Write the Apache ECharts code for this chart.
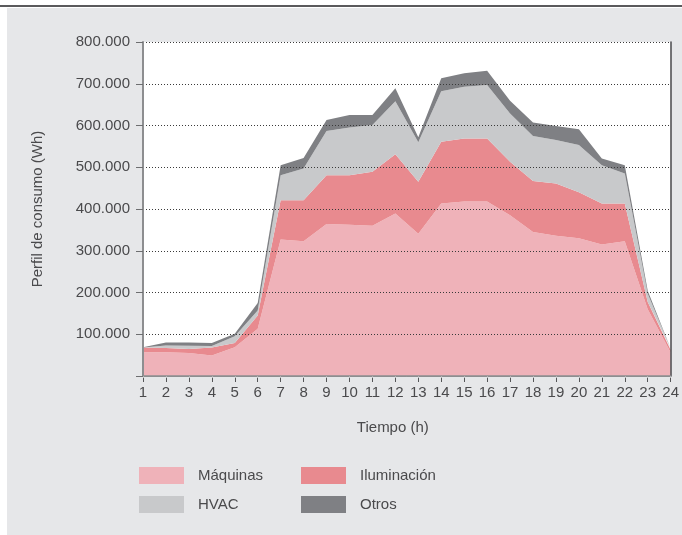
<!DOCTYPE html>
<html>
<head>
<meta charset="utf-8">
<script src="https://cdn.jsdelivr.net/npm/echarts@6/dist/echarts.min.js"></script>
<style>
  html, body { margin: 0; padding: 0; background: #ffffff; }
  #rule { position: absolute; left: 0; top: 5px; width: 682px; height: 2px; background: #5a5a5c; }
  #panel { position: absolute; left: 7px; top: 8px; width: 675px; height: 527px; background: #e6e7e9; }
  #chart { position: absolute; left: 0; top: 0; width: 682px; height: 535px; }
</style>
</head>
<body>
<div id="rule"></div>
<div id="panel"></div>
<div id="chart"></div>
<script>
// Hourly consumption profile (Wh), stacked by end use
const hours = ['1','2','3','4','5','6','7','8','9','10','11','12','13','14','15','16','17','18','19','20','21','22','23','24'];

const maquinas = [57000,57000,55000,49000,69000,113000,327000,323000,364000,362000,360000,389000,341000,413000,418000,418000,385000,345000,336000,330000,315000,323000,160000,56000];
const iluminacion = [11000,10000,9500,19000,10000,32000,94000,98000,117000,119000,129000,142000,124000,148000,151000,151000,128000,122000,125000,110000,98000,90000,17000,6000];
const hvac = [500,6000,8000,4000,16000,12000,60000,76000,106000,114000,112000,127000,95000,121000,124000,128000,116000,108000,104000,113000,92000,72000,20000,3000];
const otros = [500,7000,7500,7000,6000,18000,24000,25000,26000,30000,24000,31000,12000,31000,32000,34000,30000,32000,34000,38000,16000,20000,7000,1000];

const yTickLabels = ['', '100.000', '200.000', '300.000', '400.000', '500.000', '600.000', '700.000', '800.000'];
const yStep = 100000;
const yMax = 800000;

const seriesNames = ['Máquinas', 'Iluminación', 'HVAC', 'Otros'];
const seriesData = [maquinas, iluminacion, hvac, otros];
const colors = ['#efb2b9', '#e88a8f', '#c8c9cb', '#7f8084'];

const FONT = 'Liberation Sans, Arial, sans-serif';
const TEXT = '#4a4a4c';

const chart = echarts.init(document.getElementById('chart'), null, { renderer: 'canvas' });

const series = seriesNames.map((name, i) => ({
  name: name,
  type: 'line',
  stack: 'total',
  data: seriesData[i],
  symbol: 'none',
  smooth: false,
  lineStyle: { width: 0 },
  areaStyle: { color: colors[i], opacity: 1 },
  itemStyle: { color: colors[i] },
  emphasis: { disabled: true },
  z: 2
}));

// legend, one entry per block so the two rows line up in columns
const legendPos = [
  { left: 139, top: 467 },
  { left: 301, top: 467 },
  { left: 139, top: 496 },
  { left: 301, top: 496 }
];
const legends = seriesNames.map((name, i) => ({
  data: [name],
  left: legendPos[i].left,
  top: legendPos[i].top,
  padding: 0,
  icon: 'rect',
  itemWidth: 45,
  itemHeight: 17,
  itemGap: 0,
  selectedMode: false,
  itemStyle: { color: colors[i], borderWidth: 0 },
  textStyle: { fontFamily: FONT, fontSize: 15, color: TEXT, padding: [0, 0, 3, 9] }
}));

chart.setOption({
  animation: false,
  backgroundColor: 'transparent',
  color: colors,
  legend: legends,
  grid: {
    left: 143, right: 11, top: 42, bottom: 159,
    show: true, backgroundColor: '#ffffff', borderWidth: 0,
    containLabel: false
  },
  xAxis: [
    {
      type: 'category',
      data: hours,
      boundaryGap: false,
      position: 'bottom',
      name: 'Tiempo (h)',
      nameLocation: 'middle',
      nameGap: 44,
      nameTextStyle: { fontFamily: FONT, fontSize: 15, color: TEXT, padding: [0, 28, 0, 0] },
      axisLine: { show: true, lineStyle: { color: '#8d8e90', width: 1 } },
      axisTick: { show: true, inside: false, length: 6, alignWithLabel: true, lineStyle: { color: '#555557', width: 1 } },
      axisLabel: { fontFamily: FONT, fontSize: 15, color: TEXT, margin: 9, interval: 0 },
      splitLine: { show: false },
      z: 5
    },
    {
      type: 'category',
      data: hours,
      boundaryGap: false,
      position: 'top',
      axisLine: { show: true, lineStyle: { color: '#8d8e90', width: 1.5 } },
      axisTick: { show: true, inside: true, length: 2, lineStyle: { color: '#b5b6b8', width: 1 } },
      axisLabel: { show: false },
      splitLine: { show: false },
      z: 5
    }
  ],
  yAxis: [
    {
      type: 'value',
      min: 0,
      max: yMax,
      interval: yStep,
      position: 'left',
      name: 'Perfil de consumo (Wh)',
      nameLocation: 'middle',
      nameGap: 98,
      nameRotate: 90,
      nameTextStyle: { fontFamily: FONT, fontSize: 15, color: TEXT },
      axisLine: { show: true, lineStyle: { color: '#8d8e90', width: 2 } },
      axisTick: { show: true, inside: false, length: 7, lineStyle: { color: '#6d6e70', width: 1 } },
      axisLabel: {
        fontFamily: FONT, fontSize: 15, color: TEXT, margin: 13,
        formatter: (v) => yTickLabels[Math.round(v / yStep)]
      },
      splitLine: { show: true, lineStyle: { color: '#3a3a3a', width: 1, type: [1, 2] } },
      z: 5
    },
    {
      type: 'value',
      min: 0,
      max: yMax,
      interval: yStep,
      position: 'right',
      axisLine: { show: true, lineStyle: { color: '#4a4a4c', width: 1.5 } },
      axisTick: { show: false },
      axisLabel: { show: false },
      splitLine: { show: false },
      z: 5
    }
  ],
  series: series
});
</script>
</body>
</html>
